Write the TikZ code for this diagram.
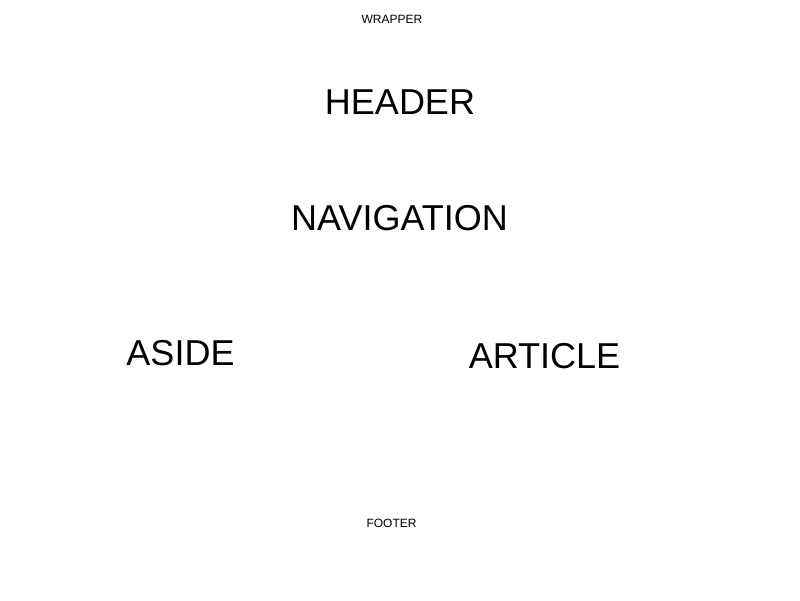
\documentclass[tikz,border=0pt]{standalone}
\usepackage{fontspec}
\setmainfont{Liberation Sans}
\begin{document}
\begin{tikzpicture}[x=1pt,y=1pt,
  small/.style={inner sep=0pt,anchor=base,font=\fontsize{12}{14}\selectfont},
  big/.style={inner sep=0pt,anchor=base,font=\fontsize{36}{42}\selectfont}]
\useasboundingbox[fill=white] (0,0) rectangle (800,600);
\node[small] (wrapper) at (392,{600-24}) {WRAPPER};
\node[big] (header) at (400,{600-114.5}) {HEADER};
\node[big] (nav) at (399.5,{600-231}) {NAVIGATION};
\node[big] (aside) at (180.5,{600-365.5}) {ASIDE};
\node[big] (article) at (544.5,{600-368.5}) {ARTICLE};
\node[small] (footer) at (391.5,{600-527.5}) {FOOTER};
\end{tikzpicture}
\end{document}
